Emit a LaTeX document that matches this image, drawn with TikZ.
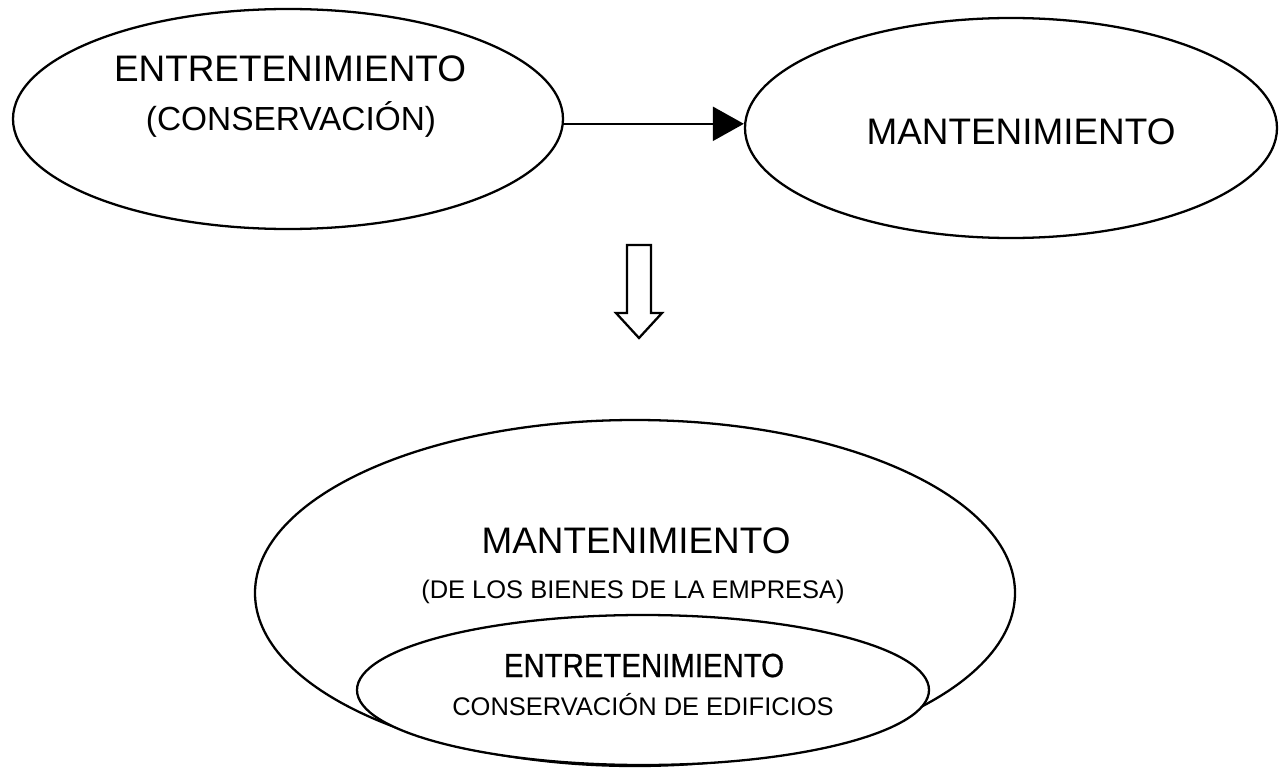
\documentclass[tikz,border=0pt]{standalone}
\usepackage{fontspec}
\setmainfont{Liberation Sans}
\newfontfamily\narrowfont{Liberation Sans}[FakeStretch=0.88,FakeBold=0.6]
\usetikzlibrary{shapes.geometric,arrows.meta}
\begin{document}
\begin{tikzpicture}[>={Triangle[length=0.62cm,width=0.68cm]},
	elipse/.style={draw,ellipse,line width=1.3pt,inner sep=0pt},
	grande/.style={font=\fontsize{21}{25}\selectfont,anchor=base,inner sep=0pt},
	medio/.style={font=\fontsize{19}{23}\selectfont,anchor=base,inner sep=0pt},
	chico/.style={font=\fontsize{14.5}{17}\selectfont,anchor=base,inner sep=0pt}]
	
	\useasboundingbox (0,0) rectangle (25.6,15.4);
	
	% elipses de arriba
	\node[elipse, minimum width=11cm, minimum height=4.4cm] (entre) at (5.76,13.02) {};
	\node[elipse, minimum width=10.64cm, minimum height=4.4cm] (mant) at (20.22,12.84) {};
	\node[grande] (entretxt) at (5.8,13.76) {ENTRETENIMIENTO};
	\node[medio] (conservtxt) at (5.82,12.8) {(CONSERVACIÓN)};
	\node[grande] (manttxt) at (20.42,12.52) {MANTENIMIENTO};
	
	% flecha entre las dos
	\draw [->, line width=1.3pt] (entre.-1.3) -- (entre.-1.3 -| mant.west);
	
	% flecha hueca
	\draw [line width=1.3pt, line join=miter] (12.54,10.5) -- (13.02,10.5) -- (13.02,9.14) -- (13.24,9.14)
	-- (12.78,8.64) -- (12.32,9.14) -- (12.54,9.14) -- cycle;
	
	% elipses de abajo
	\node[elipse, minimum width=15.2cm, minimum height=6.92cm] (mantgrande) at (12.7,3.54) {};
	\node[elipse, fill=white, minimum width=11.44cm, minimum height=3cm] (entrechica) at (12.86,1.6) {};
	\node[grande] (mantgrandetxt) at (12.72,4.34) {MANTENIMIENTO};
	\node[chico] (bienestxt) at (12.66,3.44) {(DE LOS BIENES DE LA EMPRESA)};
	\node[medio, font=\fontsize{19}{23}\narrowfont] (entrechicatxt) at (12.88,1.86) {ENTRETENIMIENTO};
	\node[chico] (edificiostxt) at (12.86,1.1) {CONSERVACIÓN DE EDIFICIOS};
\end{tikzpicture}
\end{document}
